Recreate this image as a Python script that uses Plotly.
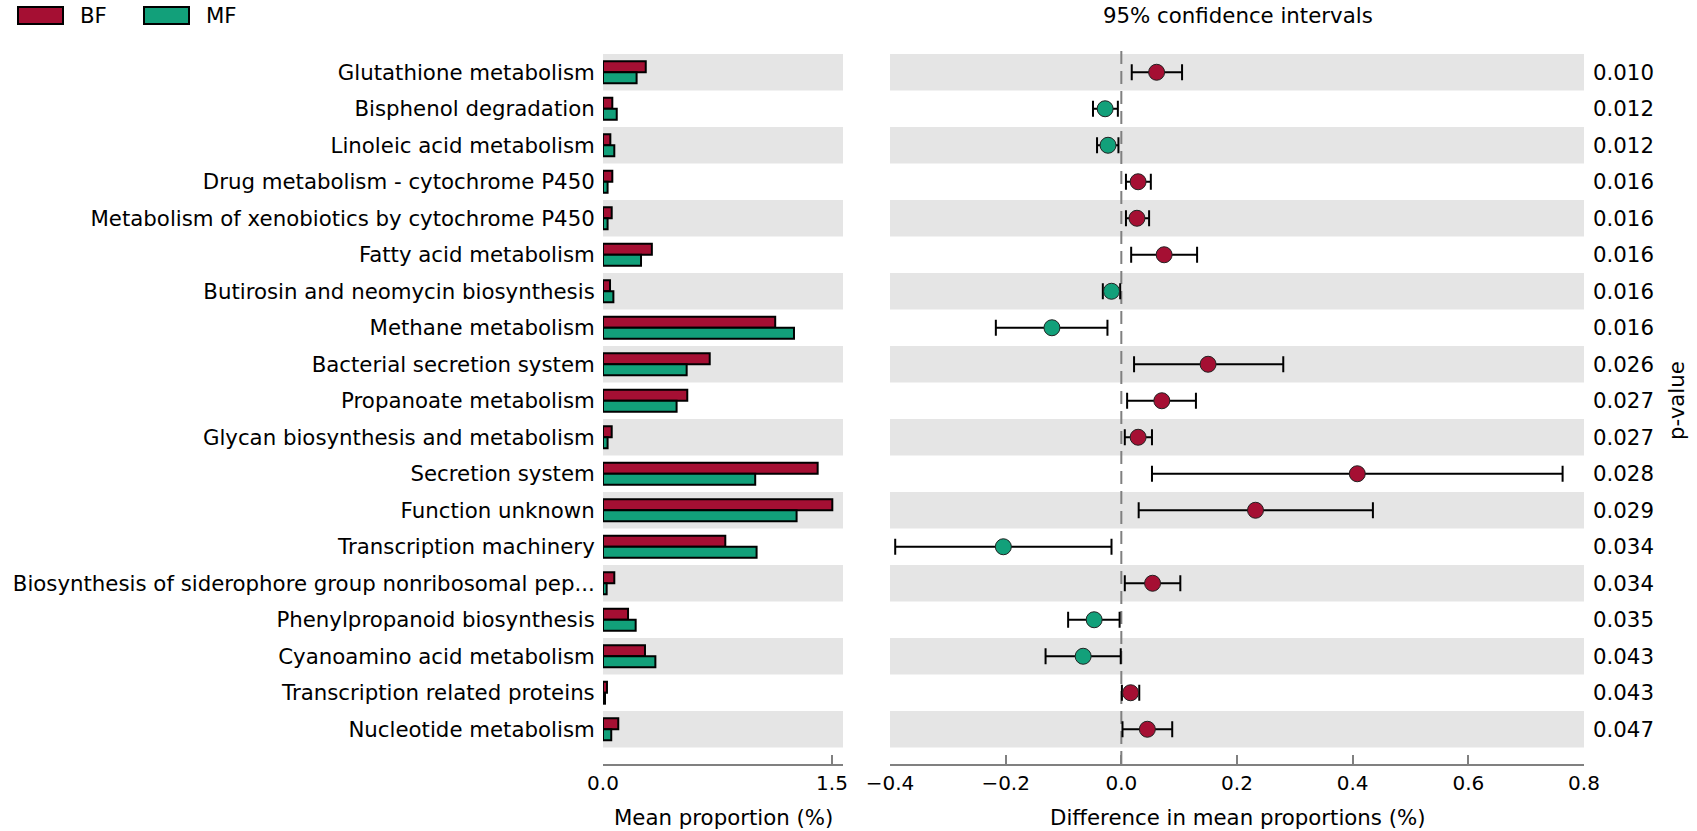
import plotly.graph_objects as go

categories = [
    "Glutathione metabolism",
    "Bisphenol degradation",
    "Linoleic acid metabolism",
    "Drug metabolism - cytochrome P450",
    "Metabolism of xenobiotics by cytochrome P450",
    "Fatty acid metabolism",
    "Butirosin and neomycin biosynthesis",
    "Methane metabolism",
    "Bacterial secretion system",
    "Propanoate metabolism",
    "Glycan biosynthesis and metabolism",
    "Secretion system",
    "Function unknown",
    "Transcription machinery",
    "Biosynthesis of siderophore group nonribosomal pep...",
    "Phenylpropanoid biosynthesis",
    "Cyanoamino acid metabolism",
    "Transcription related proteins",
    "Nucleotide metabolism",
]
bf_mean = [0.280, 0.061, 0.048, 0.061, 0.057, 0.320, 0.046, 1.128, 0.699, 0.552,
           0.057, 1.406, 1.502, 0.801, 0.074, 0.164, 0.275, 0.026, 0.100]
mf_mean = [0.220, 0.090, 0.074, 0.030, 0.030, 0.249, 0.068, 1.251, 0.548, 0.482,
           0.030, 0.997, 1.268, 1.006, 0.024, 0.214, 0.343, 0.013, 0.054]
diff = [0.061, -0.028, -0.023, 0.029, 0.027, 0.074, -0.017, -0.120, 0.150, 0.070,
        0.029, 0.408, 0.232, -0.204, 0.054, -0.047, -0.066, 0.016, 0.045]
ci_low = [0.018, -0.049, -0.042, 0.008, 0.008, 0.017, -0.032, -0.217, 0.022, 0.010,
          0.006, 0.053, 0.030, -0.391, 0.006, -0.092, -0.131, 0.001, 0.002]
ci_high = [0.105, -0.006, -0.005, 0.051, 0.048, 0.131, -0.002, -0.024, 0.280, 0.129,
           0.053, 0.763, 0.435, -0.017, 0.102, -0.003, -0.001, 0.031, 0.088]
p_values = ["0.010", "0.012", "0.012", "0.016", "0.016", "0.016", "0.016", "0.016",
            "0.026", "0.027", "0.027", "0.028", "0.029", "0.034", "0.034", "0.035",
            "0.043", "0.043", "0.047"]
groups = ["BF", "MF"]
bar_ticks = [0.0, 1.5]
diff_ticks = [-0.4, -0.2, 0.0, 0.2, 0.4, 0.6, 0.8]

W, H = 1697, 831
C_BF = "#A50F33"
C_MF = "#12A07A"
BAND = "#E5E5E5"
AX = "#808080"
FONT = "DejaVu Sans"
FS = 21.3
FS_TICK = 20


def px_x(p):
    return p / W


def px_y(p):
    return 1 - p / H


n = len(categories)
row_h = 36.5
top_px, bot_px = 45, 764
first_row_top = 54
y_top = -0.5 - (first_row_top - top_px) / row_h
y_bot = y_top + (bot_px - top_px) / row_h
yrange = [y_bot, y_top]

fig = go.Figure()

fig.add_trace(go.Bar(
    x=bf_mean, y=categories, orientation="h", name=groups[0],
    marker=dict(color=C_BF, line=dict(color="black", width=2)),
    xaxis="x", yaxis="y", showlegend=False))
fig.add_trace(go.Bar(
    x=mf_mean, y=categories, orientation="h", name=groups[1],
    marker=dict(color=C_MF, line=dict(color="black", width=2)),
    xaxis="x", yaxis="y", showlegend=False))

for sign, color in ((1, C_BF), (-1, C_MF)):
    idx = [i for i in range(n) if (diff[i] > 0) == (sign > 0)]
    fig.add_trace(go.Scatter(
        x=[diff[i] for i in idx],
        y=[categories[i] for i in idx],
        mode="markers",
        marker=dict(size=16, color=color, line=dict(color="#222222", width=1)),
        error_x=dict(type="data", symmetric=False,
                     array=[ci_high[i] - diff[i] for i in idx],
                     arrayminus=[diff[i] - ci_low[i] for i in idx],
                     color="black", thickness=2, width=8),
        xaxis="x2", yaxis="y2", showlegend=False))

shapes = []
for i in range(0, n, 2):
    for xr in ("x domain", "x2 domain"):
        shapes.append(dict(type="rect", xref=xr, x0=0, x1=1,
                           yref="y" if xr == "x domain" else "y2",
                           y0=i - 0.5, y1=i + 0.5,
                           fillcolor=BAND, line=dict(width=0), layer="below"))
shapes.append(dict(type="line", xref="x2", x0=0, x1=0, yref="y2 domain", y0=0, y1=1,
                   line=dict(color=AX, width=2, dash="13px,7px"), layer="below"))

# legend patches
leg_y0, leg_y1 = 7, 24
for (x0, x1), col in (((18, 63), C_BF), ((144, 189), C_MF)):
    shapes.append(dict(type="rect", xref="paper", yref="paper",
                       x0=px_x(x0), x1=px_x(x1), y0=px_y(leg_y1), y1=px_y(leg_y0),
                       fillcolor=col, line=dict(color="black", width=2)))

annotations = []
for name, xp in zip(groups, (78, 204)):
    annotations.append(dict(text=name, x=px_x(xp), y=px_y(15.5), xref="paper", yref="paper",
                            xanchor="left", yanchor="middle", showarrow=False,
                            font=dict(size=FS, color="black", family=FONT)))
for cat, pv in zip(categories, p_values):
    annotations.append(dict(text=pv, x=px_x(1591), xref="paper", y=cat, yref="y2",
                            xanchor="left", yanchor="middle", showarrow=False,
                            font=dict(size=FS, color="black", family=FONT)))
annotations.append(dict(text="p-value", x=px_x(1676), y=px_y(401), xref="paper", yref="paper",
                        textangle=-90, xanchor="center", yanchor="middle", showarrow=False,
                        font=dict(size=FS, color="black", family=FONT)))
annotations.append(dict(text="95% confidence intervals", x=px_x(1238), y=px_y(15.5),
                        xref="paper", yref="paper", xanchor="center", yanchor="middle",
                        showarrow=False, font=dict(size=FS, color="black", family=FONT)))
annotations.append(dict(text="Mean proportion (%)", x=px_x(723), y=px_y(817),
                        xref="paper", yref="paper", xanchor="center", yanchor="middle",
                        showarrow=False, font=dict(size=FS, color="black", family=FONT)))
annotations.append(dict(text="Difference in mean proportions (%)", x=px_x(1238), y=px_y(817),
                        xref="paper", yref="paper", xanchor="center", yanchor="middle",
                        showarrow=False, font=dict(size=FS, color="black", family=FONT)))

xcommon = dict(showgrid=False, zeroline=False, showline=True, linecolor=AX, linewidth=2,
               ticks="inside", ticklen=9, tickwidth=1.5, tickcolor=AX, automargin=False,
               tickfont=dict(size=FS_TICK, color="black", family=FONT), fixedrange=True)

fig.update_layout(
    template="none",
    width=W, height=H, autosize=False,
    margin=dict(l=0, r=0, t=0, b=0, pad=0),
    paper_bgcolor="white", plot_bgcolor="rgba(0,0,0,0)",
    barmode="group", bargap=0.4, bargroupgap=0.0,
    font=dict(family=FONT, size=FS, color="black"),
    showlegend=False,
    xaxis=dict(domain=[px_x(603), px_x(843)], range=[0, 1.572], anchor="y",
               tickvals=bar_ticks, ticktext=[f"{v:.1f}" for v in bar_ticks], **xcommon),
    xaxis2=dict(domain=[px_x(890), px_x(1584)], range=[-0.4, 0.8], anchor="y2",
                tickvals=diff_ticks,
                ticktext=[f"{v:.1f}".replace("-", "\u2212") for v in diff_ticks], **xcommon),
    yaxis=dict(domain=[px_y(bot_px), px_y(top_px)], anchor="x", type="category",
               categoryorder="array", categoryarray=categories, range=yrange,
               showgrid=False, zeroline=False, showline=False, automargin=False,
               ticks="outside", ticklen=3, tickcolor="rgba(0,0,0,0)",
               tickfont=dict(size=FS, color="black", family=FONT), fixedrange=True),
    yaxis2=dict(domain=[px_y(bot_px), px_y(top_px)], anchor="x2", type="category",
                categoryorder="array", categoryarray=categories, range=yrange,
                showgrid=False, zeroline=False, showline=False, showticklabels=False,
                automargin=False, ticks="", fixedrange=True),
    shapes=shapes, annotations=annotations,
)

fig.write_html("out.html", config={"displayModeBar": False},
               post_script="document.body.style.margin='0';document.body.style.overflow='hidden';")
